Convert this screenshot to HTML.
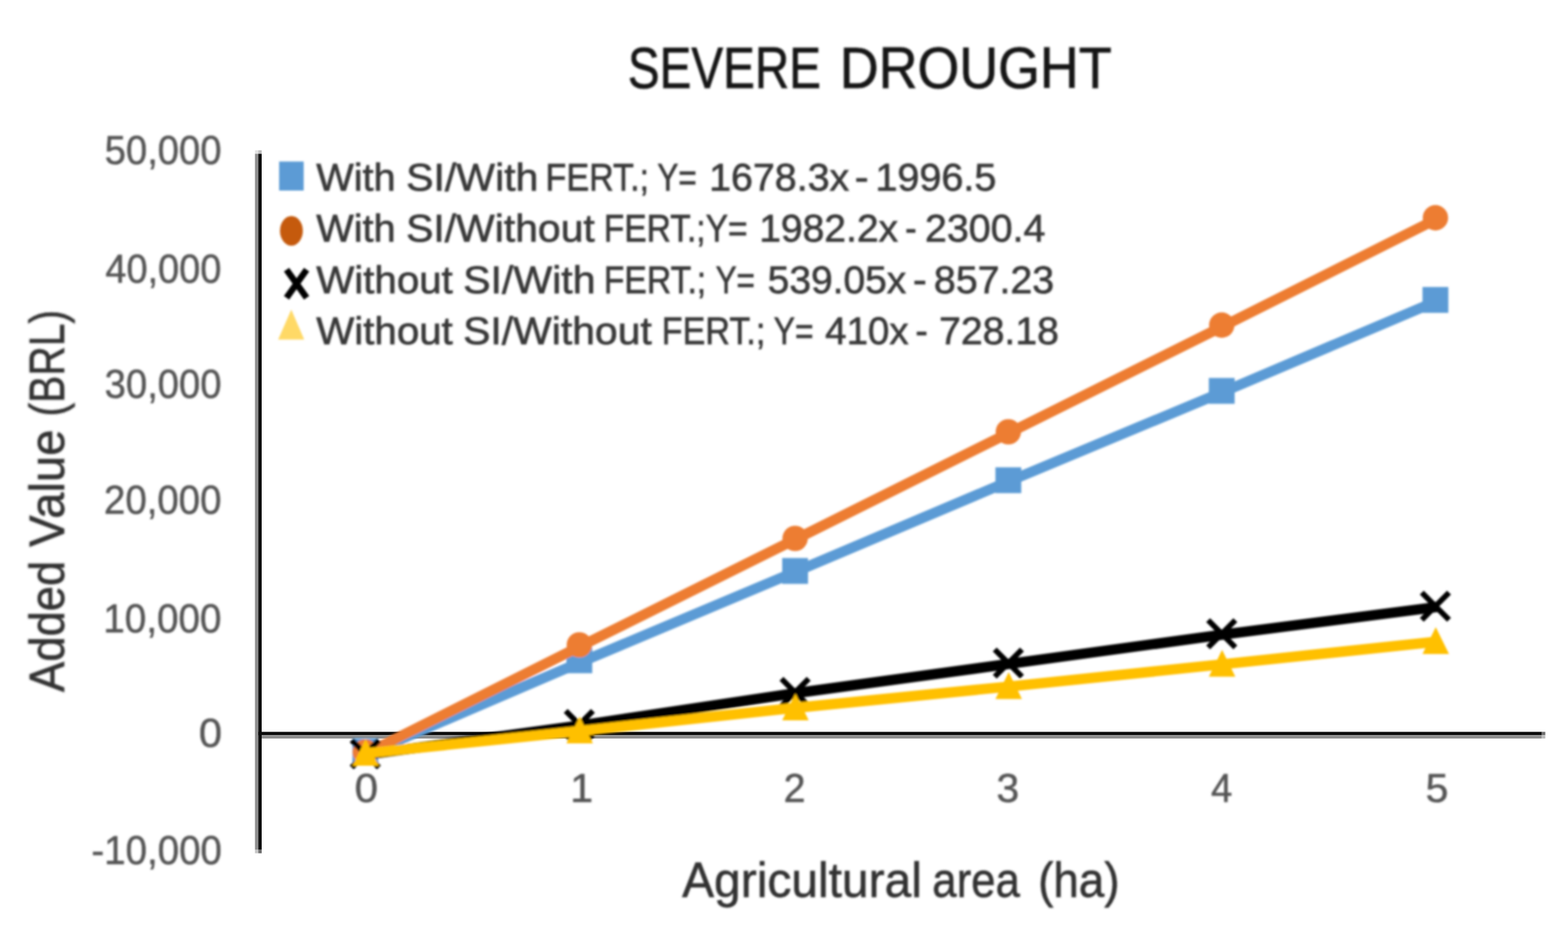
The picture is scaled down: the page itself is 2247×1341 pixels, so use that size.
<!DOCTYPE html>
<html lang="en">
<head>
<meta charset="utf-8">
<title>Severe Drought</title>
<style>
html,body{margin:0;padding:0;background:#fff;}
body{width:2247px;height:1341px;overflow:hidden;}
svg{display:block;}
text{font-family:"Liberation Sans",sans-serif;}
</style>
</head>
<body>
<svg width="2247" height="1341" viewBox="0 0 2247 1341">
<rect width="2247" height="1341" fill="#ffffff"/>

<g id="axes">
<rect x="365.4" y="220.2" width="4.8" height="997.4" fill="#8e8e8e"/>
<rect x="370.2" y="220.2" width="4.8" height="997.4" fill="#0c0c0c"/>
<rect x="365.4" y="215.3" width="4.8" height="4.9" fill="#e2e2e2"/>
<rect x="370.2" y="215.3" width="4.8" height="4.9" fill="#bcbcbc"/>
<rect x="365.4" y="1217.6" width="4.8" height="4.9" fill="#c6c6c6"/>
<rect x="370.2" y="1217.6" width="4.8" height="4.9" fill="#6e6e6e"/>
<rect x="370.2" y="1048.5" width="1839.4" height="4.8" fill="#0c0c0c"/>
<rect x="375" y="1053.3" width="1834.6" height="4.8" fill="#8e8e8e"/>
<rect x="2209.6" y="1048.5" width="4.9" height="4.8" fill="#6e6e6e"/>
<rect x="2209.6" y="1053.3" width="4.9" height="4.8" fill="#bcbcbc"/>
</g>
<defs><filter id="soft" x="-5%" y="-5%" width="110%" height="110%"><feGaussianBlur stdDeviation="1.8"/></filter></defs>
<g filter="url(#soft)">
<text y="125.9" font-size="83" id="title" fill="#141414" stroke="#141414" stroke-width="1"><tspan x="899.7" textLength="276.9" lengthAdjust="spacingAndGlyphs">SEVERE</tspan> <tspan x="1203.5" textLength="389.5" lengthAdjust="spacingAndGlyphs">DROUGHT</tspan></text>
<g id="yticks" fill="#555555" stroke="#555555" stroke-width="0.7">
<text y="235.4" font-size="56.5" ><tspan x="150.1" textLength="167.2" lengthAdjust="spacingAndGlyphs">50,000</tspan></text>
<text y="405.0" font-size="56.5" ><tspan x="151.0" textLength="166.2" lengthAdjust="spacingAndGlyphs">40,000</tspan></text>
<text y="570.0" font-size="56.5" ><tspan x="150.1" textLength="167.2" lengthAdjust="spacingAndGlyphs">30,000</tspan></text>
<text y="736.0" font-size="56.5" ><tspan x="149.1" textLength="168.2" lengthAdjust="spacingAndGlyphs">20,000</tspan></text>
<text y="905.8" font-size="56.5" ><tspan x="148.1" textLength="169.2" lengthAdjust="spacingAndGlyphs">10,000</tspan></text>
<text y="1070.4" font-size="56.5" ><tspan x="284.9" textLength="33.2" lengthAdjust="spacingAndGlyphs">0</tspan></text>
<text y="1237.7" font-size="56.5" ><tspan x="131.0" textLength="187.0" lengthAdjust="spacingAndGlyphs">-10,000</tspan></text>
</g>
<g id="xticks" fill="#555555" stroke="#555555" stroke-width="0.7">
<text y="1148.6" font-size="56.5" ><tspan x="508.2" textLength="33.5" lengthAdjust="spacingAndGlyphs">0</tspan></text>
<text y="1148.6" font-size="56.5" ><tspan x="817.3" textLength="32.7" lengthAdjust="spacingAndGlyphs">1</tspan></text>
<text y="1148.6" font-size="56.5" ><tspan x="1122.9" textLength="31.4" lengthAdjust="spacingAndGlyphs">2</tspan></text>
<text y="1148.6" font-size="56.5" ><tspan x="1427.9" textLength="32.6" lengthAdjust="spacingAndGlyphs">3</tspan></text>
<text y="1148.6" font-size="56.5" ><tspan x="1735.5" textLength="30.4" lengthAdjust="spacingAndGlyphs">4</tspan></text>
<text y="1148.6" font-size="56.5" ><tspan x="2042.9" textLength="32.6" lengthAdjust="spacingAndGlyphs">5</tspan></text>
</g>
<text y="1285" font-size="69.5" id="xtitle" fill="#333333" stroke="#333333" stroke-width="0.8"><tspan x="977.5" textLength="343.7" lengthAdjust="spacingAndGlyphs">Agricultural</tspan> <tspan x="1336.1" textLength="125.5" lengthAdjust="spacingAndGlyphs">area</tspan> <tspan x="1487.7" textLength="116.7" lengthAdjust="spacingAndGlyphs">(ha)</tspan></text>
<g transform="translate(91.7 992.5) rotate(-90)"><text y="0" font-size="69.5" id="ytitle" fill="#333333" stroke="#333333" stroke-width="0.8"><tspan x="1.0" textLength="188.3" lengthAdjust="spacingAndGlyphs">Added</tspan> <tspan x="209.0" textLength="168.2" lengthAdjust="spacingAndGlyphs">Value</tspan> <tspan x="395.7" textLength="152.8" lengthAdjust="spacingAndGlyphs">(BRL)</tspan></text></g>
<g id="series" fill="none" stroke-linejoin="round" stroke-linecap="butt">
<polyline points="527.0,1079.5 833.7,948.0 1140.4,819.0 1447.1,689.0 1753.8,561.0 2060.5,430.7" stroke="#5b9bd5" stroke-width="14.8"/>
<rect x="505.0" y="1057.5" width="37" height="37" fill="#5b9bd5"/>
<rect x="811.7" y="927.5" width="37" height="37" fill="#5b9bd5"/>
<rect x="1120.9" y="799.5" width="37" height="37" fill="#5b9bd5"/>
<rect x="1426.5" y="669.5" width="37" height="37" fill="#5b9bd5"/>
<rect x="1732.3" y="541.5" width="37" height="37" fill="#5b9bd5"/>
<rect x="2038.5" y="411.2" width="37" height="37" fill="#5b9bd5"/>
<polyline points="527.0,1078.4 833.7,924.9 1140.4,772.4 1447.1,619.6 1753.8,466.8 2060.5,313.0" stroke="#ed7d31" stroke-width="14.8"/>
<circle cx="523.5" cy="1077.4" r="18.2" fill="#ed7d31"/>
<circle cx="830.2" cy="923.9" r="18.2" fill="#ed7d31"/>
<circle cx="1139.4" cy="771.4" r="18.2" fill="#ed7d31"/>
<circle cx="1445.0" cy="618.6" r="18.2" fill="#ed7d31"/>
<circle cx="1750.8" cy="465.8" r="18.2" fill="#ed7d31"/>
<circle cx="2057.0" cy="312.0" r="18.2" fill="#ed7d31"/>
<polyline points="527.0,1081.0 833.7,1039.0 1140.4,993.0 1447.1,951.0 1753.8,909.0 2060.5,869.5" stroke="#000000" stroke-width="14.8"/>
<path d="M504.0 1060.5L543.0 1099.5M543.0 1060.5L504.0 1099.5" stroke="#000000" stroke-width="8"/>
<path d="M810.7 1018.5L849.7 1057.5M849.7 1018.5L810.7 1057.5" stroke="#000000" stroke-width="8"/>
<path d="M1119.9 972.5L1158.9 1011.5M1158.9 972.5L1119.9 1011.5" stroke="#000000" stroke-width="8"/>
<path d="M1425.5 930.5L1464.5 969.5M1464.5 930.5L1425.5 969.5" stroke="#000000" stroke-width="8"/>
<path d="M1731.3 888.5L1770.3 927.5M1770.3 888.5L1731.3 927.5" stroke="#000000" stroke-width="8"/>
<path d="M2037.5 849.0L2076.5 888.0M2076.5 849.0L2037.5 888.0" stroke="#000000" stroke-width="8"/>
<polyline points="527.0,1079.0 833.7,1047.0 1140.4,1014.0 1447.1,983.5 1753.8,951.5 2060.5,919.1" stroke="#ffc000" stroke-width="14.8"/>
<path d="M524.0 1058.5L543.0 1097.0L505.0 1097.0Z" fill="#ffc000"/>
<path d="M830.7 1026.5L849.7 1065.0L811.7 1065.0Z" fill="#ffc000"/>
<path d="M1139.9 993.5L1158.9 1032.0L1120.9 1032.0Z" fill="#ffc000"/>
<path d="M1445.5 963.0L1464.5 1001.5L1426.5 1001.5Z" fill="#ffc000"/>
<path d="M1751.3 931.0L1770.3 969.5L1732.3 969.5Z" fill="#ffc000"/>
<path d="M2057.5 898.6L2076.5 937.1L2038.5 937.1Z" fill="#ffc000"/>
</g>
<g id="legend">
<rect x="400" y="231.4" width="35.2" height="41.6" fill="#5b9bd5"/>
<ellipse cx="417.6" cy="330.7" rx="16.4" ry="21.3" fill="#c55a11"/>
<path d="M410.6 386.4L439.4 426.7M439.4 386.4L410.6 426.7" stroke="#000" stroke-width="9.2" fill="none"/>
<path d="M417.4 443.5L436 486.4L398.6 486.4Z" fill="#ffd966"/>
<g fill="#383838" stroke="#383838" stroke-width="0.9">
<text y="272.9" font-size="54.6" ><tspan x="453.2" textLength="113.8" lengthAdjust="spacingAndGlyphs">With</tspan> <tspan x="581.9" textLength="189.7" lengthAdjust="spacingAndGlyphs">SI/With</tspan> <tspan x="781.8" textLength="148.4" lengthAdjust="spacingAndGlyphs">FERT.;</tspan> <tspan x="941.9" textLength="56.5" lengthAdjust="spacingAndGlyphs">Y=</tspan> <tspan x="1016.2" textLength="200.8" lengthAdjust="spacingAndGlyphs">1678.3x</tspan> <tspan x="1224.7" textLength="20.0" lengthAdjust="spacingAndGlyphs">-</tspan> <tspan x="1254.4" textLength="173.5" lengthAdjust="spacingAndGlyphs">1996.5</tspan></text>
<text y="346.2" font-size="54.6" ><tspan x="453.2" textLength="113.8" lengthAdjust="spacingAndGlyphs">With</tspan> <tspan x="581.9" textLength="270.5" lengthAdjust="spacingAndGlyphs">SI/Without</tspan> <tspan x="865.3" textLength="206.0" lengthAdjust="spacingAndGlyphs">FERT.;Y=</tspan> <tspan x="1088.0" textLength="199.0" lengthAdjust="spacingAndGlyphs">1982.2x</tspan> <tspan x="1296.9" textLength="16.6" lengthAdjust="spacingAndGlyphs">-</tspan> <tspan x="1325.6" textLength="172.4" lengthAdjust="spacingAndGlyphs">2300.4</tspan></text>
<text y="420" font-size="54.6" ><tspan x="453.2" textLength="195.7" lengthAdjust="spacingAndGlyphs">Without</tspan> <tspan x="663.7" textLength="189.7" lengthAdjust="spacingAndGlyphs">SI/With</tspan> <tspan x="865.3" textLength="146.7" lengthAdjust="spacingAndGlyphs">FERT.;</tspan> <tspan x="1025.4" textLength="56.5" lengthAdjust="spacingAndGlyphs">Y=</tspan> <tspan x="1100.1" textLength="198.7" lengthAdjust="spacingAndGlyphs">539.05x</tspan> <tspan x="1308.2" textLength="19.9" lengthAdjust="spacingAndGlyphs">-</tspan> <tspan x="1338.3" textLength="172.3" lengthAdjust="spacingAndGlyphs">857.23</tspan></text>
<text y="493.3" font-size="54.6" ><tspan x="453.2" textLength="195.7" lengthAdjust="spacingAndGlyphs">Without</tspan> <tspan x="663.7" textLength="270.4" lengthAdjust="spacingAndGlyphs">SI/Without</tspan> <tspan x="948.3" textLength="148.5" lengthAdjust="spacingAndGlyphs">FERT.;</tspan> <tspan x="1108.8" textLength="57.1" lengthAdjust="spacingAndGlyphs">Y=</tspan> <tspan x="1182.5" textLength="119.6" lengthAdjust="spacingAndGlyphs">410x</tspan> <tspan x="1311.7" textLength="17.8" lengthAdjust="spacingAndGlyphs">-</tspan> <tspan x="1345.7" textLength="171.7" lengthAdjust="spacingAndGlyphs">728.18</tspan></text>
</g></g>
</g>
</svg>
</body>
</html>
